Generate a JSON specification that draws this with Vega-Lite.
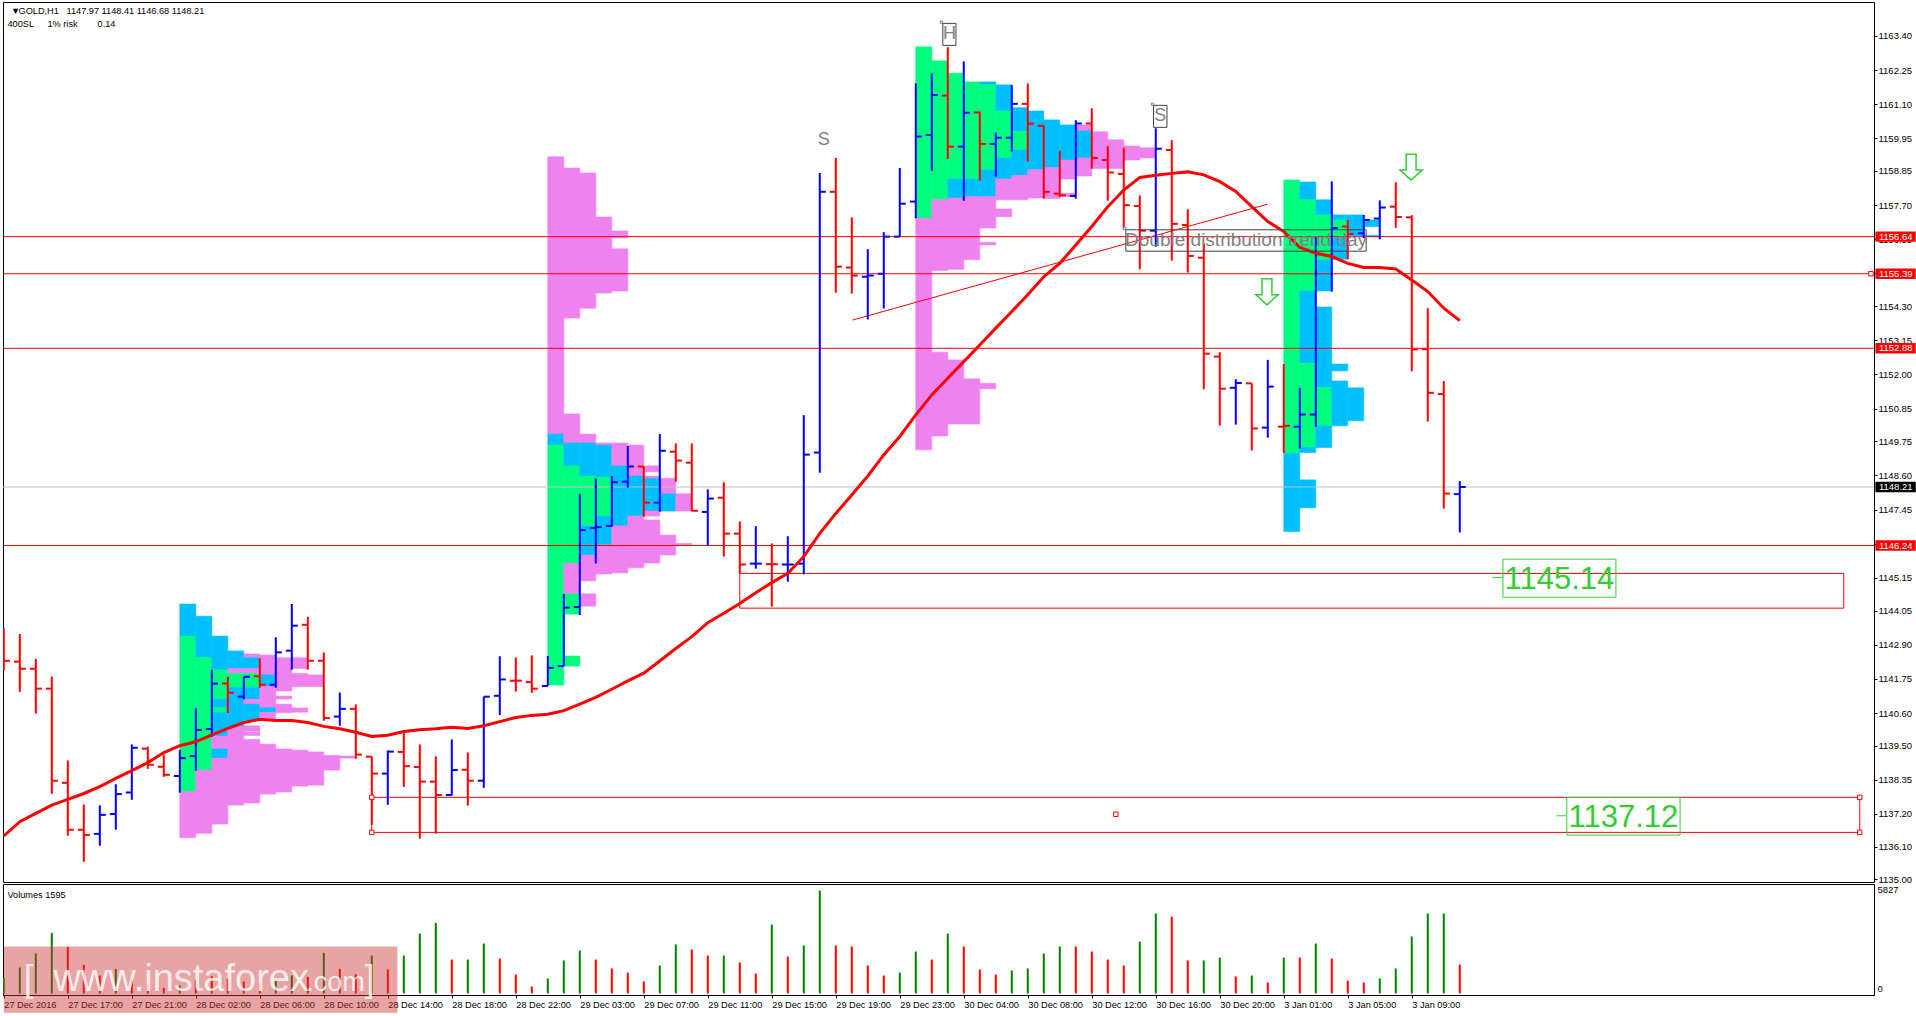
{
  "$schema": "https://vega.github.io/schema/vega-lite/v6.json",
  "background": "white",
  "padding": {"left": 2, "top": 1, "right": 0, "bottom": 0},
  "spacing": 2,
  "bounds": "flush",
  "resolve": {"scale": {"color": "independent"}},
  "config": {"font": "Liberation Sans", "view": {"stroke": "#000", "strokeWidth": 1}},
  "datasets": {
    "bars": [
      {"i":0,"o":null,"h":1143.45,"l":1142.03,"c":1142.36,"ma":1136.46,"vol":856,"dir":"down","vdir":"up"},
      {"i":1,"o":1142.33,"h":1143.26,"l":1141.31,"c":1142.09,"ma":1136.94,"vol":1391,"dir":"down","vdir":"up"},
      {"i":2,"o":1142.09,"h":1142.42,"l":1140.58,"c":1141.42,"ma":1137.22,"vol":2140,"dir":"down","vdir":"up"},
      {"i":3,"o":1141.42,"h":1141.83,"l":1137.88,"c":1138.32,"ma":1137.5,"vol":3245,"dir":"down","vdir":"up"},
      {"i":4,"o":1138.25,"h":1139.0,"l":1136.47,"c":1136.67,"ma":1137.69,"vol":2496,"dir":"down","vdir":"down"},
      {"i":5,"o":1136.67,"h":1137.52,"l":1135.59,"c":1136.49,"ma":1137.89,"vol":1533,"dir":"down","vdir":"down"},
      {"i":6,"o":1136.53,"h":1137.49,"l":1136.13,"c":1137.17,"ma":1138.12,"vol":963,"dir":"up","vdir":"down"},
      {"i":7,"o":1137.2,"h":1138.2,"l":1136.67,"c":1137.87,"ma":1138.4,"vol":1319,"dir":"up","vdir":"up"},
      {"i":8,"o":1137.92,"h":1139.54,"l":1137.68,"c":1139.43,"ma":1138.66,"vol":785,"dir":"up","vdir":"down"},
      {"i":9,"o":1139.4,"h":1139.47,"l":1138.72,"c":1138.86,"ma":1138.93,"vol":535,"dir":"down","vdir":"down"},
      {"i":10,"o":1138.79,"h":1139.2,"l":1138.45,"c":1138.52,"ma":1139.27,"vol":303,"dir":"down","vdir":"down"},
      {"i":11,"o":1138.48,"h":1139.35,"l":1137.92,"c":1139.08,"ma":1139.5,"vol":428,"dir":"up","vdir":"up"},
      {"i":12,"o":1139.15,"h":1140.76,"l":1138.66,"c":1140.03,"ma":1139.63,"vol":713,"dir":"up","vdir":"down"},
      {"i":13,"o":1140.06,"h":1142.05,"l":1139.8,"c":1141.59,"ma":1139.86,"vol":927,"dir":"up","vdir":"down"},
      {"i":14,"o":1141.59,"h":1141.82,"l":1140.6,"c":1141.28,"ma":1140.08,"vol":785,"dir":"down","vdir":"down"},
      {"i":15,"o":1141.15,"h":1141.82,"l":1141.06,"c":1141.82,"ma":1140.28,"vol":642,"dir":"up","vdir":"down"},
      {"i":16,"o":1141.84,"h":1142.44,"l":1141.45,"c":1141.55,"ma":1140.39,"vol":535,"dir":"down","vdir":"down"},
      {"i":17,"o":1141.55,"h":1143.15,"l":1141.45,"c":1142.64,"ma":1140.35,"vol":785,"dir":"up","vdir":"up"},
      {"i":18,"o":1142.7,"h":1144.27,"l":1142.06,"c":1143.54,"ma":1140.35,"vol":963,"dir":"up","vdir":"up"},
      {"i":19,"o":1143.57,"h":1143.84,"l":1142.06,"c":1142.36,"ma":1140.28,"vol":892,"dir":"down","vdir":"down"},
      {"i":20,"o":1142.36,"h":1142.64,"l":1140.34,"c":1140.43,"ma":1140.15,"vol":2175,"dir":"down","vdir":"up"},
      {"i":21,"o":1140.48,"h":1141.29,"l":1140.17,"c":1140.74,"ma":1140.07,"vol":1319,"dir":"up","vdir":"down"},
      {"i":22,"o":1140.74,"h":1140.89,"l":1139.06,"c":1139.2,"ma":1139.95,"vol":1034,"dir":"down","vdir":"down"},
      {"i":23,"o":1139.13,"h":1139.13,"l":1136.83,"c":1138.56,"ma":1139.81,"vol":2033,"dir":"down","vdir":"up"},
      {"i":24,"o":1138.56,"h":1139.34,"l":1137.51,"c":1139.3,"ma":1139.85,"vol":1284,"dir":"up","vdir":"down"},
      {"i":25,"o":1139.29,"h":1140.0,"l":1138.11,"c":1138.81,"ma":1139.98,"vol":2033,"dir":"down","vdir":"up"},
      {"i":26,"o":1138.78,"h":1139.54,"l":1136.37,"c":1138.29,"ma":1140.04,"vol":3209,"dir":"down","vdir":"up"},
      {"i":27,"o":1138.29,"h":1139.14,"l":1136.54,"c":1137.84,"ma":1140.07,"vol":3780,"dir":"down","vdir":"up"},
      {"i":28,"o":1137.84,"h":1139.71,"l":1137.82,"c":1138.68,"ma":1140.12,"vol":1819,"dir":"up","vdir":"down"},
      {"i":29,"o":1138.69,"h":1139.27,"l":1137.48,"c":1138.32,"ma":1140.08,"vol":1819,"dir":"down","vdir":"up"},
      {"i":30,"o":1138.32,"h":1141.15,"l":1138.08,"c":1141.15,"ma":1140.17,"vol":2675,"dir":"up","vdir":"up"},
      {"i":31,"o":1141.18,"h":1142.51,"l":1140.53,"c":1141.73,"ma":1140.31,"vol":1872,"dir":"up","vdir":"down"},
      {"i":32,"o":1141.69,"h":1142.47,"l":1141.32,"c":1141.69,"ma":1140.45,"vol":1016,"dir":"down","vdir":"down"},
      {"i":33,"o":1141.64,"h":1142.54,"l":1141.28,"c":1141.42,"ma":1140.52,"vol":374,"dir":"down","vdir":"down"},
      {"i":34,"o":1141.51,"h":1142.52,"l":1141.51,"c":1142.12,"ma":1140.56,"vol":802,"dir":"up","vdir":"up"},
      {"i":35,"o":1142.18,"h":1144.61,"l":1142.18,"c":1144.15,"ma":1140.68,"vol":1765,"dir":"up","vdir":"up"},
      {"i":36,"o":1144.17,"h":1147.98,"l":1143.9,"c":1146.76,"ma":1140.9,"vol":2300,"dir":"up","vdir":"up"},
      {"i":37,"o":1146.83,"h":1148.5,"l":1145.63,"c":1146.86,"ma":1141.13,"vol":1819,"dir":"up","vdir":"down"},
      {"i":38,"o":1146.9,"h":1148.58,"l":1146.88,"c":1148.37,"ma":1141.4,"vol":1337,"dir":"up","vdir":"down"},
      {"i":39,"o":1148.39,"h":1149.59,"l":1148.19,"c":1148.9,"ma":1141.68,"vol":1123,"dir":"up","vdir":"down"},
      {"i":40,"o":1148.9,"h":1148.9,"l":1147.21,"c":1147.68,"ma":1141.94,"vol":642,"dir":"down","vdir":"down"},
      {"i":41,"o":1147.68,"h":1150.0,"l":1147.38,"c":1149.43,"ma":1142.35,"vol":1498,"dir":"up","vdir":"up"},
      {"i":42,"o":1149.4,"h":1149.68,"l":1148.39,"c":1149.1,"ma":1142.77,"vol":2621,"dir":"down","vdir":"up"},
      {"i":43,"o":1149.03,"h":1149.68,"l":1147.4,"c":1147.41,"ma":1143.17,"vol":2354,"dir":"down","vdir":"down"},
      {"i":44,"o":1147.37,"h":1148.13,"l":1146.24,"c":1147.82,"ma":1143.64,"vol":2033,"dir":"up","vdir":"down"},
      {"i":45,"o":1147.85,"h":1148.37,"l":1145.87,"c":1146.64,"ma":1143.96,"vol":2033,"dir":"down","vdir":"up"},
      {"i":46,"o":1146.64,"h":1147.05,"l":1145.3,"c":1145.6,"ma":1144.29,"vol":1658,"dir":"down","vdir":"down"},
      {"i":47,"o":1145.63,"h":1146.89,"l":1145.46,"c":1145.63,"ma":1144.65,"vol":1070,"dir":"up","vdir":"down"},
      {"i":48,"o":1145.61,"h":1146.31,"l":1144.18,"c":1145.61,"ma":1144.99,"vol":3691,"dir":"down","vdir":"up"},
      {"i":49,"o":1145.6,"h":1146.55,"l":1145.02,"c":1145.6,"ma":1145.3,"vol":1979,"dir":"up","vdir":"down"},
      {"i":50,"o":1145.63,"h":1150.63,"l":1145.27,"c":1149.3,"ma":1145.87,"vol":2568,"dir":"up","vdir":"up"},
      {"i":51,"o":1149.37,"h":1158.78,"l":1148.69,"c":1158.15,"ma":1146.65,"vol":5510,"dir":"up","vdir":"up"},
      {"i":52,"o":1158.15,"h":1159.29,"l":1154.75,"c":1155.63,"ma":1147.32,"vol":2568,"dir":"down","vdir":"down"},
      {"i":53,"o":1155.6,"h":1157.29,"l":1154.72,"c":1155.33,"ma":1147.94,"vol":2514,"dir":"down","vdir":"down"},
      {"i":54,"o":1155.29,"h":1156.22,"l":1153.85,"c":1155.33,"ma":1148.58,"vol":1498,"dir":"up","vdir":"down"},
      {"i":55,"o":1155.39,"h":1156.79,"l":1154.22,"c":1156.64,"ma":1149.29,"vol":963,"dir":"up","vdir":"down"},
      {"i":56,"o":1156.64,"h":1158.95,"l":1156.64,"c":1157.75,"ma":1149.91,"vol":1123,"dir":"up","vdir":"up"},
      {"i":57,"o":1157.82,"h":1161.8,"l":1157.26,"c":1160.01,"ma":1150.64,"vol":2247,"dir":"up","vdir":"up"},
      {"i":58,"o":1160.06,"h":1162.14,"l":1158.86,"c":1161.41,"ma":1151.31,"vol":1819,"dir":"up","vdir":"down"},
      {"i":59,"o":1161.39,"h":1163.02,"l":1159.25,"c":1159.67,"ma":1151.87,"vol":3209,"dir":"down","vdir":"up"},
      {"i":60,"o":1159.67,"h":1162.54,"l":1157.85,"c":1160.81,"ma":1152.43,"vol":2514,"dir":"up","vdir":"down"},
      {"i":61,"o":1160.82,"h":1160.85,"l":1158.53,"c":1159.76,"ma":1152.99,"vol":1284,"dir":"down","vdir":"down"},
      {"i":62,"o":1159.76,"h":1160.15,"l":1158.66,"c":1159.97,"ma":1153.56,"vol":1016,"dir":"up","vdir":"down"},
      {"i":63,"o":1159.97,"h":1161.74,"l":1159.5,"c":1161.11,"ma":1154.12,"vol":1230,"dir":"up","vdir":"up"},
      {"i":64,"o":1161.11,"h":1161.8,"l":1159.17,"c":1160.44,"ma":1154.68,"vol":1337,"dir":"down","vdir":"up"},
      {"i":65,"o":1160.37,"h":1160.37,"l":1157.92,"c":1158.15,"ma":1155.29,"vol":2140,"dir":"down","vdir":"up"},
      {"i":66,"o":1158.09,"h":1159.53,"l":1157.97,"c":1158.03,"ma":1155.74,"vol":2514,"dir":"down","vdir":"up"},
      {"i":67,"o":1158.01,"h":1160.56,"l":1157.92,"c":1160.45,"ma":1156.36,"vol":2514,"dir":"up","vdir":"down"},
      {"i":68,"o":1160.45,"h":1160.96,"l":1158.93,"c":1159.29,"ma":1156.98,"vol":2247,"dir":"down","vdir":"down"},
      {"i":69,"o":1159.22,"h":1159.69,"l":1157.85,"c":1158.8,"ma":1157.65,"vol":1819,"dir":"down","vdir":"down"},
      {"i":70,"o":1158.75,"h":1159.63,"l":1156.87,"c":1157.7,"ma":1158.21,"vol":1498,"dir":"down","vdir":"down"},
      {"i":71,"o":1157.67,"h":1158.03,"l":1155.54,"c":1156.84,"ma":1158.63,"vol":2781,"dir":"down","vdir":"up"},
      {"i":72,"o":1156.84,"h":1160.29,"l":1156.3,"c":1159.6,"ma":1158.71,"vol":4279,"dir":"up","vdir":"up"},
      {"i":73,"o":1159.56,"h":1159.89,"l":1155.83,"c":1157.07,"ma":1158.77,"vol":4119,"dir":"down","vdir":"down"},
      {"i":74,"o":1157.03,"h":1157.56,"l":1155.43,"c":1155.99,"ma":1158.82,"vol":1765,"dir":"down","vdir":"down"},
      {"i":75,"o":1155.93,"h":1156.42,"l":1151.5,"c":1152.7,"ma":1158.72,"vol":1765,"dir":"down","vdir":"up"},
      {"i":76,"o":1152.6,"h":1152.75,"l":1150.28,"c":1151.52,"ma":1158.49,"vol":1926,"dir":"down","vdir":"up"},
      {"i":77,"o":1151.55,"h":1151.84,"l":1150.31,"c":1151.71,"ma":1158.16,"vol":909,"dir":"up","vdir":"down"},
      {"i":78,"o":1151.7,"h":1151.7,"l":1149.44,"c":1150.18,"ma":1157.65,"vol":963,"dir":"down","vdir":"up"},
      {"i":79,"o":1150.21,"h":1152.49,"l":1149.87,"c":1151.59,"ma":1157.15,"vol":588,"dir":"up","vdir":"down"},
      {"i":80,"o":1150.24,"h":1152.35,"l":1149.35,"c":1150.27,"ma":1156.81,"vol":1926,"dir":"down","vdir":"up"},
      {"i":81,"o":1150.24,"h":1151.55,"l":1149.5,"c":1150.65,"ma":1156.28,"vol":1926,"dir":"up","vdir":"down"},
      {"i":82,"o":1150.65,"h":1156.66,"l":1150.24,"c":1156.05,"ma":1156.08,"vol":2675,"dir":"up","vdir":"up"},
      {"i":83,"o":1156.0,"h":1158.5,"l":1154.79,"c":1156.93,"ma":1155.97,"vol":1872,"dir":"up","vdir":"down"},
      {"i":84,"o":1156.98,"h":1157.2,"l":1155.88,"c":1156.73,"ma":1155.74,"vol":695,"dir":"down","vdir":"down"},
      {"i":85,"o":1156.75,"h":1157.37,"l":1156.59,"c":1157.2,"ma":1155.6,"vol":588,"dir":"up","vdir":"down"},
      {"i":86,"o":1157.25,"h":1157.86,"l":1156.55,"c":1157.62,"ma":1155.6,"vol":802,"dir":"up","vdir":"up"},
      {"i":87,"o":1157.65,"h":1158.47,"l":1156.94,"c":1157.3,"ma":1155.55,"vol":1337,"dir":"down","vdir":"up"},
      {"i":88,"o":1157.29,"h":1157.36,"l":1152.1,"c":1152.84,"ma":1155.18,"vol":3049,"dir":"down","vdir":"up"},
      {"i":89,"o":1152.85,"h":1154.23,"l":1150.41,"c":1151.38,"ma":1154.79,"vol":4279,"dir":"down","vdir":"up"},
      {"i":90,"o":1151.34,"h":1151.78,"l":1147.48,"c":1147.99,"ma":1154.23,"vol":4279,"dir":"down","vdir":"up"},
      {"i":91,"o":1147.97,"h":1148.41,"l":1146.68,"c":1148.21,"ma":1153.81,"vol":1551,"dir":"up","vdir":"down"}
    ],
    "profile": [
      {"i":11,"j":12,"k":"b","t":1144.27,"u":1143.19},{"i":11,"j":12,"k":"g","t":1143.19,"u":1137.95},{"i":11,"j":12,"k":"p","t":1137.95,"u":1136.4},
      {"i":12,"j":13,"k":"b","t":1143.86,"u":1142.46},{"i":12,"j":13,"k":"g","t":1142.46,"u":1138.68},{"i":12,"j":13,"k":"p","t":1138.68,"u":1136.55},
      {"i":13,"j":14,"k":"b","t":1143.19,"u":1142.05},{"i":13,"j":14,"k":"g","t":1142.05,"u":1141.06},{"i":13,"j":14,"k":"b","t":1141.06,"u":1140.78},{"i":13,"j":14,"k":"g","t":1140.78,"u":1140.62},{"i":13,"j":14,"k":"b","t":1140.62,"u":1139.82},{"i":13,"j":14,"k":"p","t":1139.82,"u":1139.39},{"i":13,"j":14,"k":"b","t":1139.39,"u":1139.08},{"i":13,"j":14,"k":"p","t":1139.08,"u":1136.86},
      {"i":14,"j":15,"k":"b","t":1142.69,"u":1142.1},{"i":14,"j":15,"k":"p","t":1142.1,"u":1141.93},{"i":14,"j":15,"k":"g","t":1141.93,"u":1141.46},{"i":14,"j":15,"k":"b","t":1141.46,"u":1140.14},{"i":14,"j":15,"k":"p","t":1140.14,"u":1137.5},
      {"i":15,"j":16,"k":"p","t":1142.59,"u":1142.46},{"i":15,"j":16,"k":"b","t":1142.46,"u":1142.1},{"i":15,"j":16,"k":"p","t":1142.1,"u":1141.93},{"i":15,"j":16,"k":"g","t":1141.93,"u":1141.46},{"i":15,"j":16,"k":"b","t":1141.46,"u":1141.06},{"i":15,"j":16,"k":"p","t":1141.06,"u":1140.9},{"i":15,"j":16,"k":"b","t":1140.9,"u":1140.36},{"i":15,"j":16,"k":"p","t":1140.17,"u":1139.99},{"i":15,"j":16,"k":"p","t":1139.96,"u":1139.84},{"i":15,"j":16,"k":"p","t":1139.71,"u":1137.57},
      {"i":16,"j":17,"k":"p","t":1142.55,"u":1141.88},{"i":16,"j":17,"k":"b","t":1141.88,"u":1141.49},{"i":16,"j":17,"k":"p","t":1141.49,"u":1140.78},{"i":16,"j":17,"k":"b","t":1140.78,"u":1140.62},{"i":16,"j":17,"k":"p","t":1140.62,"u":1140.41},{"i":16,"j":17,"k":"p","t":1139.55,"u":1137.87},
      {"i":17,"j":18,"k":"p","t":1142.46,"u":1141.34},{"i":17,"j":18,"k":"p","t":1141.17,"u":1141.07},{"i":17,"j":18,"k":"p","t":1140.9,"u":1140.61},{"i":17,"j":18,"k":"p","t":1139.39,"u":1137.94},
      {"i":18,"j":19,"k":"p","t":1142.46,"u":1142.1},{"i":18,"j":19,"k":"p","t":1141.93,"u":1141.49},{"i":18,"j":19,"k":"p","t":1140.77,"u":1140.63},{"i":18,"j":19,"k":"p","t":1139.35,"u":1138.14},
      {"i":19,"j":20,"k":"p","t":1141.88,"u":1141.49},{"i":19,"j":20,"k":"p","t":1139.29,"u":1138.17},
      {"i":20,"j":21,"k":"p","t":1139.17,"u":1138.68},
      {"i":21,"j":22,"k":"p","t":1139.15,"u":1139.08},
      {"i":34,"j":35,"k":"p","t":1159.33,"u":1149.99},{"i":34,"j":35,"k":"b","t":1149.99,"u":1149.62},{"i":34,"j":35,"k":"g","t":1149.62,"u":1141.54},
      {"i":35,"j":36,"k":"p","t":1158.95,"u":1153.9},{"i":35,"j":36,"k":"p","t":1150.67,"u":1149.69},{"i":35,"j":36,"k":"b","t":1149.69,"u":1148.92},{"i":35,"j":36,"k":"g","t":1148.92,"u":1145.64},{"i":35,"j":36,"k":"p","t":1145.64,"u":1144.61},{"i":35,"j":36,"k":"g","t":1144.61,"u":1143.93},{"i":35,"j":36,"k":"g","t":1142.52,"u":1142.18},
      {"i":36,"j":37,"k":"p","t":1158.78,"u":1154.23},{"i":36,"j":37,"k":"p","t":1149.99,"u":1149.69},{"i":36,"j":37,"k":"b","t":1149.69,"u":1148.58},{"i":36,"j":37,"k":"g","t":1148.58,"u":1146.9},{"i":36,"j":37,"k":"b","t":1146.9,"u":1145.92},{"i":36,"j":37,"k":"p","t":1145.92,"u":1145.05},{"i":36,"j":37,"k":"p","t":1144.61,"u":1144.2},
      {"i":37,"j":38,"k":"p","t":1157.3,"u":1154.74},{"i":37,"j":38,"k":"p","t":1149.69,"u":1149.62},{"i":37,"j":38,"k":"b","t":1149.62,"u":1148.54},{"i":37,"j":38,"k":"g","t":1148.54,"u":1147.23},{"i":37,"j":38,"k":"b","t":1147.23,"u":1146.26},{"i":37,"j":38,"k":"p","t":1146.26,"u":1145.28},
      {"i":38,"j":39,"k":"p","t":1156.83,"u":1156.6},{"i":38,"j":39,"k":"p","t":1156.23,"u":1154.81},{"i":38,"j":39,"k":"p","t":1149.69,"u":1148.92},{"i":38,"j":39,"k":"b","t":1148.92,"u":1146.9},{"i":38,"j":39,"k":"p","t":1146.9,"u":1145.32},
      {"i":39,"j":40,"k":"p","t":1149.62,"u":1148.58},{"i":39,"j":40,"k":"b","t":1148.58,"u":1147.23},{"i":39,"j":40,"k":"p","t":1147.23,"u":1145.49},
      {"i":40,"j":41,"k":"p","t":1148.92,"u":1148.72},{"i":40,"j":41,"k":"p","t":1148.58,"u":1148.5},{"i":40,"j":41,"k":"b","t":1148.5,"u":1147.4},{"i":40,"j":41,"k":"p","t":1147.4,"u":1147.23},{"i":40,"j":41,"k":"p","t":1147.1,"u":1145.65},
      {"i":41,"j":42,"k":"p","t":1148.5,"u":1147.98},{"i":41,"j":42,"k":"b","t":1147.98,"u":1147.4},{"i":41,"j":42,"k":"p","t":1146.59,"u":1145.92},
      {"i":42,"j":43,"k":"p","t":1147.98,"u":1147.4},{"i":42,"j":43,"k":"p","t":1146.31,"u":1146.24},
      {"i":57,"j":58,"k":"g","t":1163.03,"u":1157.26},{"i":57,"j":58,"k":"p","t":1157.26,"u":1149.46},
      {"i":58,"j":59,"k":"g","t":1162.56,"u":1157.88},{"i":58,"j":59,"k":"p","t":1157.88,"u":1155.5},{"i":58,"j":59,"k":"p","t":1152.75,"u":1149.93},
      {"i":59,"j":60,"k":"g","t":1162.14,"u":1158.58},{"i":59,"j":60,"k":"b","t":1158.58,"u":1157.94},{"i":59,"j":60,"k":"p","t":1157.94,"u":1155.54},{"i":59,"j":60,"k":"p","t":1152.49,"u":1150.33},
      {"i":60,"j":61,"k":"g","t":1161.85,"u":1158.58},{"i":60,"j":61,"k":"b","t":1158.58,"u":1157.99},{"i":60,"j":61,"k":"p","t":1157.99,"u":1155.86},{"i":60,"j":61,"k":"p","t":1151.85,"u":1150.33},
      {"i":61,"j":62,"k":"b","t":1161.85,"u":1161.75},{"i":61,"j":62,"k":"g","t":1161.75,"u":1158.89},{"i":61,"j":62,"k":"b","t":1158.89,"u":1157.99},{"i":61,"j":62,"k":"p","t":1157.99,"u":1156.93},{"i":61,"j":62,"k":"p","t":1156.45,"u":1156.36},{"i":61,"j":62,"k":"p","t":1151.7,"u":1151.52},
      {"i":62,"j":63,"k":"b","t":1161.75,"u":1160.87},{"i":62,"j":63,"k":"g","t":1160.87,"u":1159.29},{"i":62,"j":63,"k":"b","t":1159.29,"u":1158.58},{"i":62,"j":63,"k":"p","t":1158.58,"u":1157.88},{"i":62,"j":63,"k":"p","t":1157.57,"u":1157.31},
      {"i":63,"j":64,"k":"b","t":1160.98,"u":1160.18},{"i":63,"j":64,"k":"g","t":1160.18,"u":1159.56},{"i":63,"j":64,"k":"b","t":1159.56,"u":1158.7},{"i":63,"j":64,"k":"p","t":1158.7,"u":1157.88},
      {"i":64,"j":65,"k":"b","t":1160.87,"u":1158.89},{"i":64,"j":65,"k":"p","t":1158.89,"u":1157.94},
      {"i":65,"j":66,"k":"b","t":1160.57,"u":1158.96},{"i":65,"j":66,"k":"p","t":1158.96,"u":1157.92},
      {"i":66,"j":67,"k":"b","t":1160.4,"u":1159.22},{"i":66,"j":67,"k":"p","t":1159.22,"u":1158.58},{"i":66,"j":67,"k":"p","t":1158.1,"u":1157.99},
      {"i":67,"j":68,"k":"p","t":1160.4,"u":1160.2},{"i":67,"j":68,"k":"b","t":1160.2,"u":1159.29},{"i":67,"j":68,"k":"p","t":1159.29,"u":1158.68},
      {"i":68,"j":69,"k":"p","t":1160.17,"u":1158.93},
      {"i":69,"j":70,"k":"p","t":1159.9,"u":1158.93},
      {"i":70,"j":71,"k":"p","t":1159.69,"u":1159.22},
      {"i":71,"j":72,"k":"p","t":1159.63,"u":1159.29},
      {"i":80,"j":81,"k":"g","t":1158.55,"u":1149.35},{"i":80,"j":81,"k":"b","t":1149.35,"u":1146.71},
      {"i":81,"j":82,"k":"b","t":1158.48,"u":1157.88},{"i":81,"j":82,"k":"g","t":1157.88,"u":1154.81},{"i":81,"j":82,"k":"b","t":1154.81,"u":1152.38},{"i":81,"j":82,"k":"g","t":1152.38,"u":1149.54},{"i":81,"j":82,"k":"b","t":1149.54,"u":1149.37},{"i":81,"j":82,"k":"b","t":1148.45,"u":1147.51},
      {"i":82,"j":83,"k":"b","t":1157.88,"u":1157.37},{"i":82,"j":83,"k":"g","t":1157.37,"u":1155.85},{"i":82,"j":83,"k":"b","t":1155.85,"u":1154.81},{"i":82,"j":83,"k":"b","t":1154.27,"u":1151.56},{"i":82,"j":83,"k":"g","t":1151.56,"u":1150.27},{"i":82,"j":83,"k":"b","t":1150.27,"u":1149.54},
      {"i":83,"j":84,"k":"b","t":1157.37,"u":1157.2},{"i":83,"j":84,"k":"g","t":1157.2,"u":1156.6},{"i":83,"j":84,"k":"b","t":1156.6,"u":1155.88},{"i":83,"j":84,"k":"b","t":1152.35,"u":1152.12},{"i":83,"j":84,"k":"b","t":1151.78,"u":1150.27},
      {"i":84,"j":85,"k":"b","t":1157.37,"u":1156.64},{"i":84,"j":85,"k":"b","t":1151.55,"u":1150.44},
      {"i":85,"j":86,"k":"b","t":1157.2,"u":1156.98},{"i":85,"j":86,"k":"b","t":1156.68,"u":1156.63}
    ],
    "levels": [{"p":1156.64},{"p":1155.39},{"p":1152.88},{"p":1146.24}],
    "tags": [
      {"i":116.98,"j":119.5,"t":1156.815,"u":1156.465,"label":"1156.64"},
      {"i":116.98,"j":119.5,"t":1155.565,"u":1155.215,"label":"1155.39"},
      {"i":116.98,"j":119.5,"t":1153.055,"u":1152.705,"label":"1152.88"},
      {"i":116.98,"j":119.5,"t":1148.385,"u":1148.035,"label":"1148.21"},
      {"i":116.98,"j":119.5,"t":1146.415,"u":1146.065,"label":"1146.24"}
    ],
    "tagText": [
      {"i":117.2,"p":1156.64,"label":"1156.64"},
      {"i":117.2,"p":1155.39,"label":"1155.39"},
      {"i":117.2,"p":1152.88,"label":"1152.88"},
      {"i":117.2,"p":1148.21,"label":"1148.21"},
      {"i":117.2,"p":1146.24,"label":"1146.24"}
    ]
  },
  "vconcat": [
    {
      "width": 1871,
      "height": 880,
      "encoding": {
        "x": {"field": "i", "type": "quantitative", "scale": {"domain": [-0.05, 116.89], "nice": false, "zero": false}, "axis": null},
        "y": {
          "field": "p",
          "type": "quantitative",
          "scale": {"domain": [1134.91, 1164.54], "nice": false, "zero": false},
          "axis": {
            "orient": "right",
            "title": null,
            "grid": false,
            "domain": false,
            "values": [1163.4,1162.25,1161.1,1159.95,1158.85,1157.7,1156.55,1155.4,1154.3,1153.15,1152,1150.85,1149.75,1148.6,1147.45,1146.3,1145.15,1144.05,1142.9,1141.75,1140.6,1139.5,1138.35,1137.2,1136.1,1135],
            "format": ".2f",
            "labelFontSize": 9.5,
            "labelColor": "#000",
            "labelPadding": 1,
            "labelOverlap": false,
            "labelBound": false,
            "tickSize": 3,
            "tickColor": "#000"
          }
        }
      },
      "layer": [
        {
          "data": {"name": "profile"},
          "mark": {"type": "rect", "strokeWidth": 0.6},
          "encoding": {
            "x2": {"field": "j"},
            "y": {"field": "t", "type": "quantitative"},
            "y2": {"field": "u"},
            "color": {"field": "k", "type": "nominal", "legend": null, "scale": {"domain": ["p", "b", "g", "up", "down"], "range": ["#EE82EE", "#00BFFF", "#00FF7F", "#00f", "#f00"]}},
            "stroke": {"field": "k", "type": "nominal", "legend": null, "scale": {"domain": ["p", "b", "g"], "range": ["#EE82EE", "#00BFFF", "#00FF7F"]}}
          }
        },
        {
          "data": {"name": "levels"},
          "mark": {"type": "rule", "color": "#f00", "strokeWidth": 1},
          "encoding": {"x": null}
        },
        {
          "data": {"values": [{"p": 1148.21}]},
          "mark": {"type": "rule", "color": "#C0C0C0", "strokeWidth": 1},
          "encoding": {"x": null}
        },
        {
          "data": {"values": [{"i": 53.04, "p": 1153.83}, {"i": 78.98, "p": 1157.73}]},
          "mark": {"type": "line", "color": "#f00", "strokeWidth": 1}
        },
        {
          "data": {"values": [{"i": 46, "j": 115, "t": 1145.3, "u": 1144.13}, {"i": 23, "j": 116, "t": 1137.76, "u": 1136.58}]},
          "mark": {"type": "rect", "filled": false, "stroke": "#f00", "strokeWidth": 1},
          "encoding": {"x2": {"field": "j"}, "y": {"field": "t", "type": "quantitative"}, "y2": {"field": "u"}}
        },
        {
          "data": {"name": "bars"},
          "mark": {"type": "rule", "strokeWidth": 2, "clip": true},
          "encoding": {
            "y": {"field": "h", "type": "quantitative"},
            "y2": {"field": "l"},
            "color": {"field": "dir", "type": "nominal", "legend": null}
          }
        },
        {
          "data": {"name": "bars"},
          "transform": [{"filter": "datum.o != null"}],
          "mark": {"type": "tick", "orient": "horizontal", "size": 6, "thickness": 2, "xOffset": -3, "opacity": 1},
          "encoding": {
            "y": {"field": "o", "type": "quantitative"},
            "color": {"field": "dir", "type": "nominal", "legend": null}
          }
        },
        {
          "data": {"name": "bars"},
          "mark": {"type": "tick", "orient": "horizontal", "size": 6, "thickness": 2, "xOffset": 3, "opacity": 1},
          "encoding": {
            "y": {"field": "c", "type": "quantitative"},
            "color": {"field": "dir", "type": "nominal", "legend": null}
          }
        },
        {
          "data": {"name": "bars"},
          "mark": {"type": "line", "color": "#f00", "strokeWidth": 3, "clip": true},
          "encoding": {"y": {"field": "ma", "type": "quantitative"}}
        },
        {
          "data": {"values": [{"i": 23, "p": 1137.76}, {"i": 23, "p": 1136.58}, {"i": 116, "p": 1137.76}, {"i": 116, "p": 1136.58}, {"i": 69.5, "p": 1137.19}, {"i": 116.7, "p": 1155.39}]},
          "mark": {"type": "point", "shape": "square", "size": 20, "filled": true, "fill": "#fff", "stroke": "#f00", "strokeWidth": 1, "opacity": 1}
        },
        {
          "data": {"values": [{"i": 58.6, "p": 1163.86}, {"i": 71.8, "p": 1161.1}, {"i": 70.05, "p": 1156.92}]},
          "mark": {"type": "point", "shape": "square", "size": 5, "filled": true, "fill": "#fff", "stroke": "#808080", "strokeWidth": 1, "opacity": 1}
        },
        {
          "data": {"values": [{"i": 78.95, "p": 1154.78}, {"i": 87.96, "p": 1158.98}]},
          "mark": {"type": "point", "shape": "M-0.38,-1L0.38,-1L0.38,0.22L0.85,0.22L0,1L-0.85,0.22L-0.38,0.22Z", "size": 676, "filled": true, "fill": "#fff", "stroke": "#32CD32", "strokeWidth": 1.5, "opacity": 1}
        },
        {
          "data": {"values": [{"i": 93.7, "j": 100.76, "t": 1145.78, "u": 1144.5}, {"i": 97.69, "j": 104.77, "t": 1137.76, "u": 1136.49}]},
          "mark": {"type": "rect", "filled": false, "stroke": "#32CD32", "strokeWidth": 1},
          "encoding": {"x2": {"field": "j"}, "y": {"field": "t", "type": "quantitative"}, "y2": {"field": "u"}}
        },
        {
          "data": {"values": [{"i": 93.05, "j": 93.7, "p": 1145.16}, {"i": 97.04, "j": 97.69, "p": 1137.14}]},
          "mark": {"type": "rule", "color": "#32CD32", "strokeWidth": 1},
          "encoding": {"x2": {"field": "j"}}
        },
        {
          "data": {"values": [{"i": 97.23, "p": 1145.08, "label": "1145.14"}, {"i": 101.23, "p": 1137.06, "label": "1137.12"}]},
          "mark": {"type": "text", "fontSize": 31, "color": "#32CD32", "align": "center", "baseline": "middle"},
          "encoding": {"text": {"field": "label"}}
        },
        {
          "data": {"values": [{"i": 58.69, "j": 59.51, "t": 1163.82, "u": 1163.08}, {"i": 71.86, "j": 72.7, "t": 1161.06, "u": 1160.32}, {"i": 70.13, "j": 85.15, "t": 1156.87, "u": 1156.15}]},
          "mark": {"type": "rect", "filled": false, "stroke": "#404040", "strokeWidth": 1},
          "encoding": {"x2": {"field": "j"}, "y": {"field": "t", "type": "quantitative"}, "y2": {"field": "u"}}
        },
        {
          "data": {"values": [{"i": 59.1, "p": 1163.45, "label": "H"}, {"i": 72.28, "p": 1160.69, "label": "S"}, {"i": 51.25, "p": 1159.89, "label": "S"}]},
          "mark": {"type": "text", "fontSize": 18, "color": "#808080", "align": "center", "baseline": "middle"},
          "encoding": {"text": {"field": "label"}}
        },
        {
          "data": {"values": [{"i": 77.64, "p": 1156.51, "label": "Double distribution trend day"}]},
          "mark": {"type": "text", "fontSize": 19, "color": "#808080", "align": "center", "baseline": "middle"},
          "encoding": {"text": {"field": "label"}}
        },
        {
          "data": {"values": [{"i": 0.45, "p": 1164.25, "label": "▼"}, {"i": 0.92, "p": 1164.25, "label": "GOLD,H1"}, {"i": 3.92, "p": 1164.25, "label": "1147.97 1148.41 1146.68 1148.21"}, {"i": 0.23, "p": 1163.8, "label": "400SL"}, {"i": 2.73, "p": 1163.8, "label": "1% risk"}, {"i": 5.86, "p": 1163.8, "label": "0.14"}]},
          "mark": {"type": "text", "fontSize": 9.2, "color": "#000", "align": "left", "baseline": "middle"},
          "encoding": {"text": {"field": "label"}}
        },
        {
          "data": {"name": "tags"},
          "mark": {"type": "rect"},
          "encoding": {
            "x2": {"field": "j"},
            "y": {"field": "t", "type": "quantitative"},
            "y2": {"field": "u"},
            "fill": {"condition": {"test": "datum.label == '1148.21'", "value": "#000"}, "value": "#f00"}
          }
        },
        {
          "data": {"name": "tagText"},
          "mark": {"type": "text", "fontSize": 9.5, "color": "#fff", "align": "left", "baseline": "middle"},
          "encoding": {"text": {"field": "label"}}
        }
      ]
    },
    {
      "width": 1871,
      "height": 111,
      "data": {"name": "bars"},
      "encoding": {
        "x": {
          "field": "i",
          "type": "quantitative",
          "scale": {"domain": [-0.05, 116.89], "nice": false, "zero": false},
          "axis": {
            "title": null,
            "grid": false,
            "domainColor": "#000",
            "values": [0,4,8,12,16,20,24,28,32,36,40,44,48,52,56,60,64,68,72,76,80,84,88],
            "labelExpr": "['27 Dec 2016','27 Dec 17:00','27 Dec 21:00','28 Dec 02:00','28 Dec 06:00','28 Dec 10:00','28 Dec 14:00','28 Dec 18:00','28 Dec 22:00','29 Dec 03:00','29 Dec 07:00','29 Dec 11:00','29 Dec 15:00','29 Dec 19:00','29 Dec 23:00','30 Dec 04:00','30 Dec 08:00','30 Dec 12:00','30 Dec 16:00','30 Dec 20:00','3 Jan 01:00','3 Jan 05:00','3 Jan 09:00'][datum.value / 4]",
            "labelAlign": "left",
            "labelBaseline": "top",
            "labelFontSize": 9.2,
            "labelColor": "#000",
            "labelPadding": 2,
            "labelOverlap": false,
            "labelBound": false,
            "labelFlush": false,
            "tickSize": 3,
            "tickColor": "#000"
          }
        },
        "y": {
          "field": "vol",
          "type": "quantitative",
          "scale": {"domain": [-80, 5860], "nice": false, "zero": false},
          "axis": {
            "orient": "right",
            "title": null,
            "grid": false,
            "domain": false,
            "values": [0, 5827],
            "format": "d",
            "labelFontSize": 9.5,
            "labelColor": "#000",
            "labelPadding": 3,
            "labelBaseline": {"condition": {"test": "datum.value == 0", "value": "bottom"}, "value": "top"},
            "labelFlush": false,
            "tickSize": 0
          }
        }
      },
      "layer": [
        {
          "mark": {"type": "rule", "strokeWidth": 2, "clip": true},
          "encoding": {
            "y2": {"datum": 0},
            "color": {"field": "vdir", "type": "nominal", "legend": null, "scale": {"domain": ["up", "down"], "range": ["#008000", "#f00"]}}
          }
        },
        {
          "data": {"values": [{"i": 0.1, "label": "Volumes 1595", "vol": 5250}]},
          "mark": {"type": "text", "fontSize": 9.2, "color": "#000", "align": "left", "baseline": "middle", "dx": 2},
          "encoding": {"text": {"field": "label"}}
        },
        {
          "data": {"values": [{"i": 0, "j": 24.6, "vol": 2514, "u": -1033}]},
          "mark": {"type": "rect", "color": "#cc3333", "opacity": 0.45},
          "encoding": {"x2": {"field": "j"}, "y2": {"field": "u"}}
        },
        {
          "data": {"values": [{"i": 3.1, "label": "www.instaforex", "vol": 123}]},
          "mark": {"type": "text", "fontSize": 38, "color": "#fff", "opacity": 0.8, "align": "left", "baseline": "alphabetic"},
          "encoding": {"text": {"field": "label"}}
        },
        {
          "data": {"values": [{"i": 18.9, "label": ".com", "vol": 123}]},
          "mark": {"type": "text", "fontSize": 27, "color": "#fff", "opacity": 0.8, "align": "left", "baseline": "alphabetic"},
          "encoding": {"text": {"field": "label"}}
        },
        {
          "data": {"values": [{"i": 1.25, "label": "[", "vol": 749}, {"i": 22.55, "label": "]", "vol": 749}]},
          "mark": {"type": "text", "fontSize": 36, "fontWeight": "normal", "color": "#fff", "opacity": 0.8, "align": "left", "baseline": "middle"},
          "encoding": {"text": {"field": "label"}}
        }
      ]
    }
  ]
}
